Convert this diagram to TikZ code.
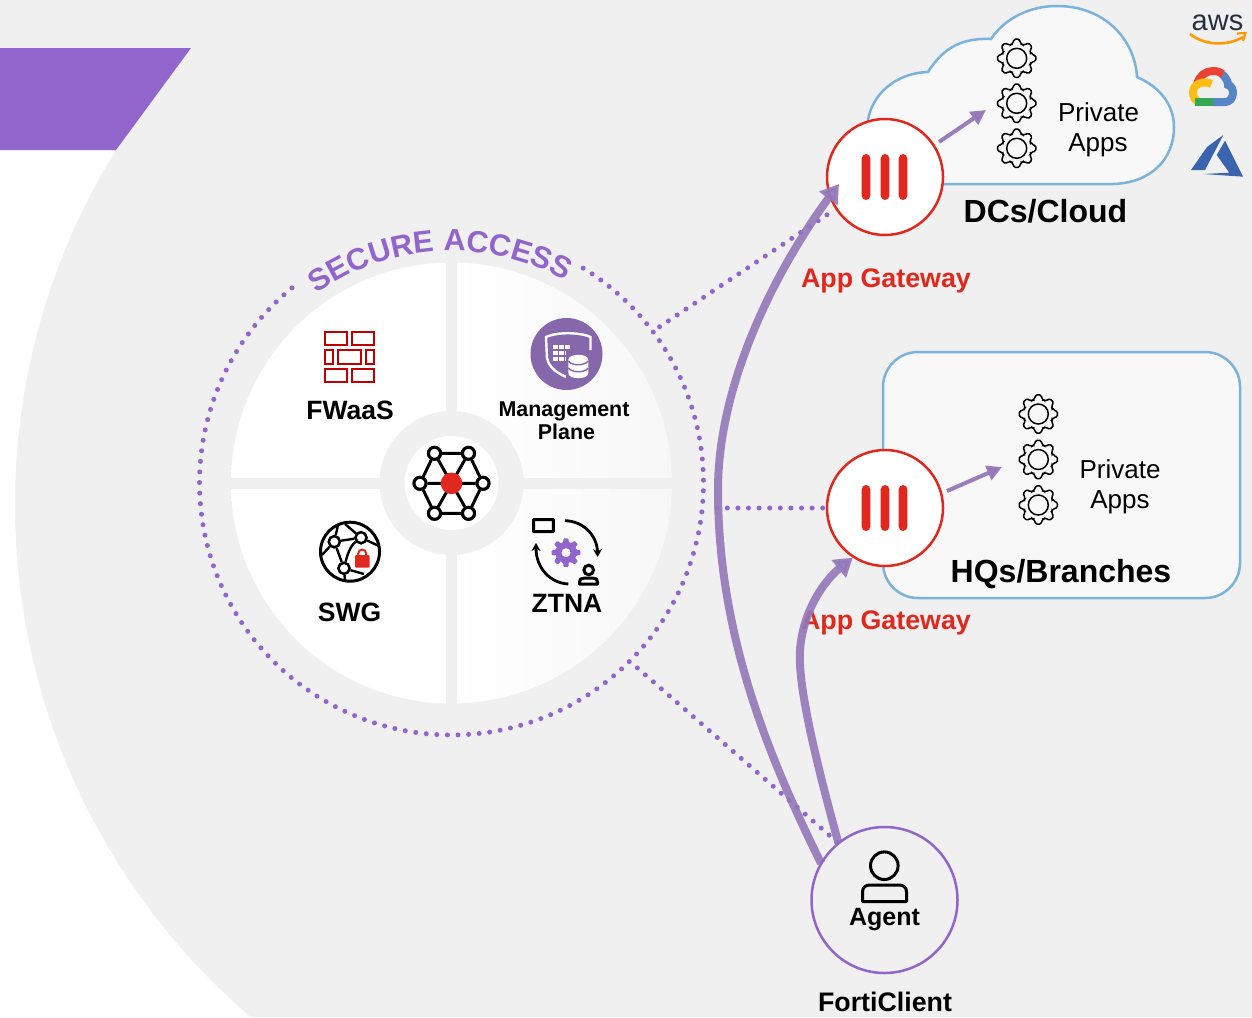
\documentclass[tikz,border=0pt]{standalone}
\usepackage{fontspec}
\setmainfont{Liberation Sans}
\usetikzlibrary{arrows.meta,decorations.text,calc}
\definecolor{bggray}{HTML}{F0F0F0}
\definecolor{band}{HTML}{9265CC}
\definecolor{gwred}{HTML}{E0281E}
\definecolor{brick}{HTML}{C00000}
\definecolor{cloudline}{HTML}{7BB3DC}
\definecolor{panel}{HTML}{F8F8F8}
\definecolor{flow}{HTML}{9478B8}
\definecolor{mgmt}{HTML}{8767AC}
\definecolor{azure}{HTML}{3A65AE}
\definecolor{awsink}{HTML}{252F3E}
\definecolor{awsorange}{HTML}{FF9900}
\definecolor{gred}{HTML}{EA4335}
\definecolor{gblue}{HTML}{5885C6}
\definecolor{gyellow}{HTML}{FCBE15}
\definecolor{ggreen}{HTML}{34A853}
\newcommand{\fsz}[1]{\fontsize{#1}{#1}\selectfont}
\tikzset{
  lbl/.style={inner sep=0pt,anchor=base,text=black,font=\bfseries\fsz{26.5}},
  mgmtlbl/.style={lbl,font=\bfseries\fsz{21.4}},
  gwlbl/.style={lbl,text=gwred,font=\bfseries\fsz{26.8}},
  arealbl/.style={lbl,font=\bfseries\fsz{32}},
  applbl/.style={lbl,font=\fsz{26}},
  areabox/.style={draw=cloudline,fill=panel,line width=2.5pt},
  gateway/.style={circle,draw=gwred,fill=white,line width=2.5pt,minimum size=116pt,inner sep=0pt},
  agentring/.style={circle,minimum size=146pt,inner sep=0pt},
  dotline/.style={band,line width=5pt,line cap=round,dash pattern=on 0pt off 10.6pt},
  flowline/.style={draw=flow,line width=8pt,opacity=.9,-{Triangle[length=18pt,width=22pt]}},
  thinflow/.style={draw=flow,line width=4pt,opacity=.95,-{Triangle[length=15pt,width=15pt]}},
  iconline/.style={draw=black,line width=3pt},
  bar/.style={fill=gwred,rounded corners=4.3pt},
  hubnode/.style={circle,draw=black,fill=white,line width=3pt,minimum size=12pt,inner sep=0pt},
  netnode/.style={circle,draw=black,fill=white,line width=2.4pt,minimum size=11pt,inner sep=0pt},
  brickrect/.style={draw=brick,line width=2.6pt,fill=white},
  coreanchor/.style={circle,minimum size=504pt,inner sep=0pt},
  gearicon/.pic={
    \draw[black,line width=1.5pt,rounded corners=1.6pt] (-13:15.5)
      \foreach \a in {0,45,...,315}{ -- ({\a-13}:15.5) -- ({\a-9}:19.3) -- ({\a+9}:19.3) -- ({\a+13}:15.5) -- ({\a+22.5}:14.8) } -- cycle;
    \draw[black,line width=1.5pt] (0,0) circle (10);
  },
  ztnagear/.pic={
    \fill[band,even odd rule,rounded corners=1pt] (-15:10.7)
      \foreach \a in {0,45,...,315}{ -- ({\a-15}:10.7) -- ({\a-10}:14.6) -- ({\a+10}:14.6) -- ({\a+15}:10.7) -- ({\a+30}:10.7) } -- cycle
      (0,0) circle (4.6);
  }
}
\begin{document}
\begin{tikzpicture}[x=1pt,y=-1pt]
\useasboundingbox (0,0) rectangle (1252,1017);
\fill[bggray] (0,0) rectangle (1252,1017);
% white outside of the large arc
\begin{scope}
  \clip (0,150) rectangle (689,1017);
  \fill[white,even odd rule] (-10,140) rectangle (1252,1030) (689.4,505) circle (674.4);
\end{scope}
\fill[band] (0,48) -- (191,48) -- (116,150) -- (0,150) -- cycle;

% central disc
\shade[left color=white,right color=white!97!black,middle color=white] (451.5,483) circle (220.5);
\fill[bggray] (446,262) rectangle (457,704);
\fill[bggray] (230,478) rectangle (673,489);
\fill[bggray] (451.5,483) circle (72);
\fill[white] (451.5,483) circle (47);

% dotted ring and title
\node[coreanchor] (core) at (451.5,483) {};
\draw[dotline] plot[domain=-58.5:233,samples=240] ({451.5+252*cos(\x)},{483+252*sin(\x)});
\path[decorate,decoration={text along path,text align=center,
   text={|\bfseries\fsz{30.5}\color{band}|SECURE ACCESS}}]
   plot[domain=231.5:302.5,samples=80] ({451.5+232*cos(\x)},{483+232*sin(\x)});

% FWaaS icon
\foreach \xa/\ya/\xb/\yb in {325/332/347/345,352/332/374/345,325/350/333/364,338/350/361/364,366/350/374/364,325/369/347/382,352/369/374/382}
  \draw[brickrect] (\xa,\ya) rectangle (\xb,\yb);
\node[lbl] (fwaas) at (350,419) {FWaaS};

% Management plane icon
\fill[mgmt] (566.5,354) circle (36);
\draw[white,line width=2.4pt] (590.5,350) -- (590.5,337) .. controls (580,332) and (556,332) .. (546,337) -- (547,358) .. controls (549,368) and (558,374) .. (569,378);
\foreach \gx in {553,559,565} \foreach \gy in {344.5,350.5,356.5}
  \fill[white] (\gx,\gy) rectangle ++(4.9,4.6);
\fill[mgmt] (566,351) rectangle (589,381);
\fill[white] (568.3,360) .. controls (568.3,353) and (588.3,353) .. (588.3,360) -- (588.3,373) .. controls (588.3,380) and (568.3,380) .. (568.3,373) -- cycle;
\draw[mgmt,line width=1.4pt] (568.3,361) .. controls (572,366) and (584.6,366) .. (588.3,361);
\draw[mgmt,line width=1.4pt] (568.3,368) .. controls (572,373) and (584.6,373) .. (588.3,368);
\node[mgmtlbl] (mgmtA) at (564,416) {Management};
\node[mgmtlbl] (mgmtB) at (566.5,439) {Plane};

% hub icon
\coordinate (hc) at (451.5,483.3);
\node[hubnode] (h1) at ($(hc)+(-17,-30)$) {};
\node[hubnode] (h2) at ($(hc)+(17,-30)$) {};
\node[hubnode] (h3) at ($(hc)+(31.5,0)$) {};
\node[hubnode] (h4) at ($(hc)+(17,30)$) {};
\node[hubnode] (h5) at ($(hc)+(-17,30)$) {};
\node[hubnode] (h6) at ($(hc)+(-31.5,0)$) {};
\draw[iconline] (h1)--(h2)--(h3)--(h4)--(h5)--(h6)--(h1) (h1)--(h4) (h2)--(h5) (h3)--(h6);
\foreach \n in {1,...,6} \node[hubnode] at (h\n) {};
\fill[gwred] (hc) circle (10.8);

% SWG icon
\draw[iconline] (350,551.7) circle (29.5);
\node[netnode] (n1) at (334.3,541.7) {};
\node[netnode] (n2) at (361,537.7) {};
\node[netnode] (n3) at (344,568.3) {};
\draw[black,line width=2.4pt] (n1)--(n2) (n1)--(n3) (n2) .. controls (350,546) and (347,556) .. (n3)
  (n1)--(322,555) (n1)--(338,525) (n2)--(379,546) (n2)--(345,524) (n3)--(345,581) (n3)--(364,574);
\foreach \n in {n1,n2,n3} \node[netnode] at (\n) {};
\draw[gwred,line width=2pt] (358.2,556) -- (358.2,553.5) .. controls (358.2,548.3) and (366.2,548.3) .. (366.2,553.5) -- (366.2,556);
\fill[gwred,rounded corners=1pt] (355,555) rectangle (369.5,567.5);
\node[lbl] (swg) at (349.5,621) {SWG};

% ZTNA icon
\draw[iconline,rounded corners=.5pt] (533.5,519.5) rectangle (553.3,531.7);
\draw[black,line width=2.8pt,-{Stealth[length=8pt,width=9pt]}] (565,520.7) .. controls (583,521) and (597,535) .. (597.7,557);
\draw[black,line width=2.8pt,-{Stealth[length=8pt,width=9pt]}] (568.3,584) .. controls (550,583) and (536,568) .. (536,543);
\pic at (566,552.7) {ztnagear};
\draw[iconline] (588.7,570) circle (4.8);
\draw[iconline,line join=round] (579.5,584.2) -- (579.5,582) .. controls (579.5,579) and (581,578.2) .. (584,578.2) -- (593,578.2) .. controls (596,578.2) and (597.5,579) .. (597.5,582) -- (597.5,584.2) -- cycle;
\node[lbl] (ztna) at (567,612) {ZTNA};

% Cloud and branch areas
\draw[areabox] (868,120) .. controls (872,95) and (895,73) .. (928,72)
  .. controls (945,45) and (965,38) .. (991,39)
  .. controls (1005,18) and (1030,6) .. (1057,6)
  .. controls (1105,6) and (1135,40) .. (1137,77)
  .. controls (1160,87) and (1174,105) .. (1174,127)
  .. controls (1174,160) and (1150,183) .. (1113,184) -- (880,184) -- cycle;
\draw[areabox,rounded corners=35pt] (883,352) rectangle (1240,598);
\foreach \yy in {58.3,103.3,148.3} \pic at (1016.7,\yy) {gearicon};
\foreach \yy in {414,459.5,505} \pic at (1038.3,\yy) {gearicon};
\node[applbl] (app1a) at (1098.5,121.5) {Private};
\node[applbl] (app1b) at (1098,151.5) {Apps};
\node[applbl] (app2a) at (1120,478.5) {Private};
\node[applbl] (app2b) at (1120,508.5) {Apps};
\node[arealbl] (dc) at (1045.5,222) {DCs/Cloud};
\node[arealbl] (hq) at (1061,582) {HQs/Branches};

% Gateways and agent
\node[agentring] (agent) at (884.5,900) {};
\node[gateway] (gw1) at (885,177) {};
\node[gateway] (gw2) at (885,508) {};
\draw[dotline,shorten <=8pt] (core.37) -- (gw1.213);
\draw[dotline,shorten <=13pt,shorten >=3pt] (core.east |- gw2.west) -- (gw2.west);
\draw[dotline,shorten <=10pt] (core.-45) -- (agent.129);
\foreach \g in {gw1,gw2} {
  \foreach \dx in {-19,0,18} \fill[bar] ($(\g)+(\dx-4.3,-23)$) rectangle ($(\g)+(\dx+4.3,23)$);
}
\node[gwlbl] (gwl1) at (886,287) {App Gateway};
\node[gwlbl] (gwl2) at (886,629) {App Gateway};

% Flows
\coordinate (tip1) at (839,184);
\coordinate (app1) at (986,110);
\coordinate (app2) at (1002,467);
\coordinate (gw1out) at (939,142);
\coordinate (gw2out) at (947,491);
\draw[flowline] (agent.150) .. controls (765,750) and (718,630) .. (718,490) .. controls (718,370) and (790,250) .. (tip1);
\draw[flowline] (agent.129) .. controls (810,740) and (798,680) .. (800,650) .. controls (803,610) and (825,580) .. (gw2.237);
\draw[thinflow] (gw1out) -- (app1);
\draw[thinflow] (gw2out) -- (app2);
\draw[band,line width=2.5pt] (agent) circle (73);

% Agent icon
\draw[iconline] (884.3,865.7) circle (13.8);
\draw[iconline,line join=round] (862.5,901.5) -- (862.5,892) .. controls (862.5,887) and (866,885) .. (870,885) -- (899,885) .. controls (903,885) and (906.5,887) .. (906.5,892) -- (906.5,901.5) -- cycle;
\node[lbl,font=\bfseries\fsz{25}] (agentl) at (884.5,925) {Agent};
\node[gwlbl,text=black] (fc) at (885,1011.7) {FortiClient};

% AWS logo
\node[inner sep=0pt,anchor=base,text=awsink,font=\fsz{29}] (aws) at (1217.5,30) {aws};
\draw[awsorange,line width=2.6pt] (1190,34) .. controls (1205,46) and (1228,46) .. (1243,37);
\draw[awsorange,line width=2.2pt] (1237,33.5) -- (1245.5,33) -- (1243,41);

% Google Cloud logo
\draw[gblue,line width=8pt] (1222,74) .. controls (1226,78) and (1228,81) .. (1228,85) .. controls (1235,86) and (1235,102) .. (1225,102) -- (1213,102);
\draw[gred,line width=8pt] (1197,84) .. controls (1200,75) and (1206,71) .. (1213,71) .. controls (1217,71) and (1220,72) .. (1223,74);
\draw[gyellow,line width=8pt] (1211.5,84) .. controls (1203,80) and (1193,84) .. (1193,92.5) .. controls (1193,97) and (1195,100) .. (1198,102);
\draw[ggreen,line width=8pt] (1195,102) -- (1213,102);

% Azure logo
\fill[azure] (1223.3,135) -- (1207,147) -- (1191,170) -- (1205,170) -- cycle;
\fill[azure] (1225,140.7) -- (1243,176.7) -- (1203.3,174) -- (1229.3,172.7) -- (1216.7,155) -- cycle;
\end{tikzpicture}
\end{document}
